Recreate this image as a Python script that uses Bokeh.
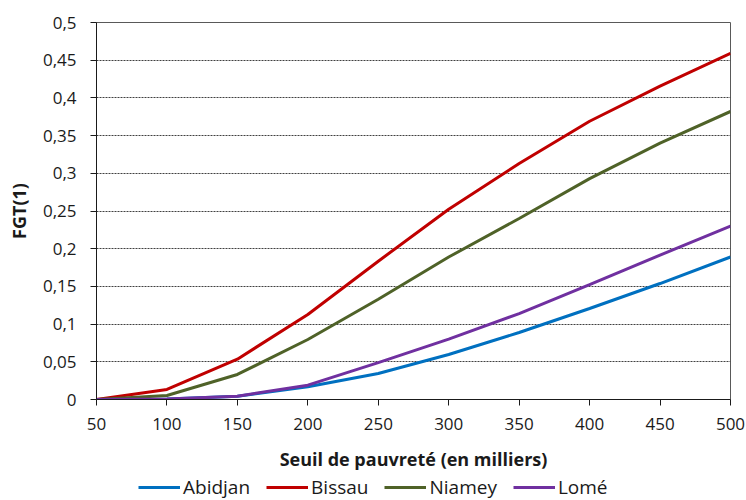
from bokeh.plotting import figure
from bokeh.layouts import column
from bokeh.models import Range1d, FixedTicker, Legend, LegendItem
from bokeh.embed import file_html
from bokeh.resources import INLINE

# ---- data ----
seuils = [50, 100, 150, 200, 250, 300, 350, 400, 450, 500]
abidjan = [0.0, 0.0005, 0.0044, 0.0168, 0.0345, 0.0597, 0.0889, 0.1207, 0.1538, 0.189]
bissau = [0.0, 0.0133, 0.0535, 0.1127, 0.1834, 0.2524, 0.313, 0.369, 0.4155, 0.459]
niamey = [0.0, 0.0053, 0.0332, 0.0796, 0.133, 0.189, 0.240, 0.293, 0.340, 0.382]
lome = [0.0, 0.0005, 0.0044, 0.019, 0.049, 0.080, 0.114, 0.1525, 0.1915, 0.230]

series_names = ["Abidjan", "Bissau", "Niamey", "Lomé"]
series_values = [abidjan, bissau, niamey, lome]
series_colors = ["#0070C0", "#C00000", "#4F6228", "#7030A0"]

x_ticks = [50, 100, 150, 200, 250, 300, 350, 400, 450, 500]
y_ticks = [0, 0.05, 0.1, 0.15, 0.2, 0.25, 0.3, 0.35, 0.4, 0.45, 0.5]
y_tick_labels = ["0", "0,05", "0,1", "0,15", "0,2", "0,25", "0,3", "0,35", "0,4", "0,45", "0,5"]

x_title = "Seuil de pauvreté (en milliers)"
y_title = "FGT(1)"

FONT = "Open Sans"
TXT = "#1a1a1a"

p = figure(width=746, height=474, output_backend="svg", toolbar_location=None,
           x_range=Range1d(50, 500), y_range=Range1d(0, 0.5),
           min_border_left=96, min_border_right=16, min_border_top=22,
           min_border_bottom=75)
p.background_fill_color = "white"
p.border_fill_color = "white"
p.outline_line_color = "#595959"
p.outline_line_width = 1

# grid
p.xgrid.grid_line_color = None
p.ygrid.grid_line_color = "#404040"
p.ygrid.grid_line_dash = "2 1"
p.ygrid.grid_line_width = 1
p.ygrid.ticker = FixedTicker(ticks=y_ticks)

# axes
p.xaxis.ticker = FixedTicker(ticks=x_ticks)
p.yaxis.ticker = FixedTicker(ticks=y_ticks)
p.yaxis.major_label_overrides = {t: l for t, l in zip(y_ticks, y_tick_labels)}
for ax in (p.xaxis[0], p.yaxis[0]):
    ax.axis_line_color = "#1a1a1a"
    ax.axis_line_width = 1
    ax.major_tick_line_color = "#1a1a1a"
    ax.major_tick_out = 6
    ax.major_tick_in = 0
    ax.minor_tick_line_color = None
    ax.major_label_text_font = FONT
    ax.major_label_text_font_size = "17px"
    ax.major_label_text_color = TXT
    ax.axis_label_text_font = FONT
    ax.axis_label_text_font_size = "18px"
    ax.axis_label_text_font_style = "bold"
    ax.axis_label_text_color = TXT

p.xaxis.axis_label = x_title
p.yaxis.axis_label = y_title
p.xaxis.major_label_standoff = 12
p.xaxis.axis_label_standoff = 14
p.yaxis.major_label_standoff = 14
p.yaxis.axis_label_standoff = 9

for vals, col in zip(series_values, series_colors):
    p.line(seuils, vals, line_color=col, line_width=3)

# legend strip below the chart (its series lie outside its visible range)
lg = figure(width=746, height=26, output_backend="svg", toolbar_location=None,
            x_axis_type=None, y_axis_type=None, min_border=0,
            x_range=Range1d(0, 1), y_range=Range1d(0, 1))
lg.outline_line_color = None
lg.background_fill_color = "white"
lg.border_fill_color = "white"
items = []
for name, vals, col in zip(series_names, series_values, series_colors):
    r = lg.line(seuils, vals, line_color=col, line_width=3)
    items.append(LegendItem(label=name, renderers=[r]))

legend = Legend(items=items, orientation="horizontal", location=(42, 0),
                glyph_width=42, glyph_height=18, label_height=18,
                label_standoff=3, spacing=16, padding=0, margin=0,
                border_line_color=None, background_fill_alpha=0,
                label_text_font=FONT, label_text_font_size="19px",
                label_text_color=TXT)
lg.add_layout(legend, "center")

layout = column(p, lg, spacing=0)
open("out.html", "w").write(file_html(layout, INLINE))
